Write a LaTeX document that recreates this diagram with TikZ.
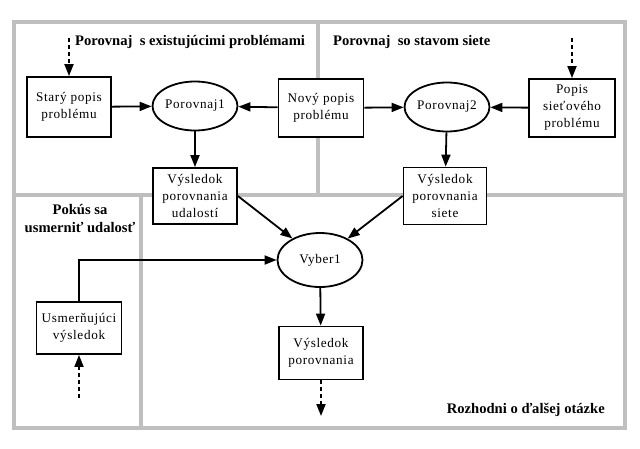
\documentclass[tikz,border=0pt]{standalone}
\usepackage{fontspec}
\setmainfont{Liberation Serif}
\newfontfamily\boxfont[LetterSpace=5]{Liberation Serif}
\usetikzlibrary{arrows.meta,shapes.geometric}

\begin{document}
\begin{tikzpicture}[x=1pt,y=-1pt,
  box/.style={draw,line width=1.8pt,fill=white,align=center,inner sep=0pt,
    font=\boxfont\fontsize{13.2}{17}\selectfont},
  oval/.style={draw,ellipse,line width=1.8pt,fill=white,inner sep=0pt,
    font=\boxfont\fontsize{13.2}{17}\selectfont},
  region/.style={line width=4pt,gray!50},
  title/.style={font=\bfseries\fontsize{14.6}{18}\selectfont,inner sep=0pt,align=center},
  flow/.style={line width=1.8pt,-{Triangle[length=12pt,width=9pt]}},
  flowdash/.style={flow,dash pattern=on 4pt off 3pt}]
\useasboundingbox (0,0) rectangle (640,448);
% regions
\draw[region] (14,22) rectangle (625,428);
\draw[region] (14,195) -- (625,195);
\draw[region] (318,22) -- (318,195);
\draw[region] (141,195) -- (141,428);
% titles
\node[title,anchor=west] (t1) at (75,42) {Porovnaj\ \ s existujúcimi problémami};
\node[title,anchor=west] (t2) at (333,42) {Porovnaj\ \ so stavom siete};
\node[title] (t3) at (80,219) {Pokús sa\\usmerniť udalosť};
\node[title,anchor=east] (t4) at (605,410) {Rozhodni o ďalšej otázke};
% nodes
\node[box,minimum width=84pt,minimum height=60pt] (stary) at (69,107) {Starý popis\\problému};
\node[oval,minimum width=85pt,minimum height=49pt] (por1) at (195,106) {Porovnaj1};
\node[box,minimum width=85pt,minimum height=58pt] (novy) at (321,108) {Nový popis\\problému};
\node[oval,minimum width=85pt,minimum height=49pt] (por2) at (447,107) {Porovnaj2};
\node[box,minimum width=86pt,minimum height=58pt] (popis) at (572,108) {Popis\\sieťového\\problému};
\node[box,minimum width=84pt,minimum height=56pt] (vysu) at (195,196) {Výsledok\\porovnania\\udalostí};
\node[box,minimum width=83pt,minimum height=57pt] (vyss) at (445,196) {Výsledok\\porovnania\\siete};
\node[oval,minimum width=85pt,minimum height=54pt] (vyber) at (320,260) {Vyber1};
\node[box,minimum width=84pt,minimum height=53pt] (vysl) at (321,353) {Výsledok\\porovnania};
\node[box,minimum width=85pt,minimum height=52pt] (usm) at (79,328) {Usmerňujúci\\výsledok};
% free ends
\coordinate (instary) at (69,38);
\coordinate (inpopis) at (572,38);
\coordinate (inusm) at (79,398);
\coordinate (outvysl) at (321,416);
% connectors
\draw[flowdash] (instary) -- (stary);
\draw[flowdash] (inpopis) -- (popis);
\draw[flowdash] (inusm) -- (usm);
\draw[flowdash] (vysl) -- (outvysl);
\draw[flow] (stary) -- (por1);
\draw[flow] (novy) -- (por1);
\draw[flow] (novy) -- (por2);
\draw[flow] (popis) -- (por2);
\draw[flow] (por1) -- (vysu);
\draw[flow] (por2) -- (vyss);
\draw[flow] (vysu.east) -- (vyber);
\draw[flow] (vyss.west) -- (vyber);
\draw[flow] (usm.north) |- (vyber.west);
\draw[flow] (vyber) -- (vysl);
\end{tikzpicture}
\end{document}
